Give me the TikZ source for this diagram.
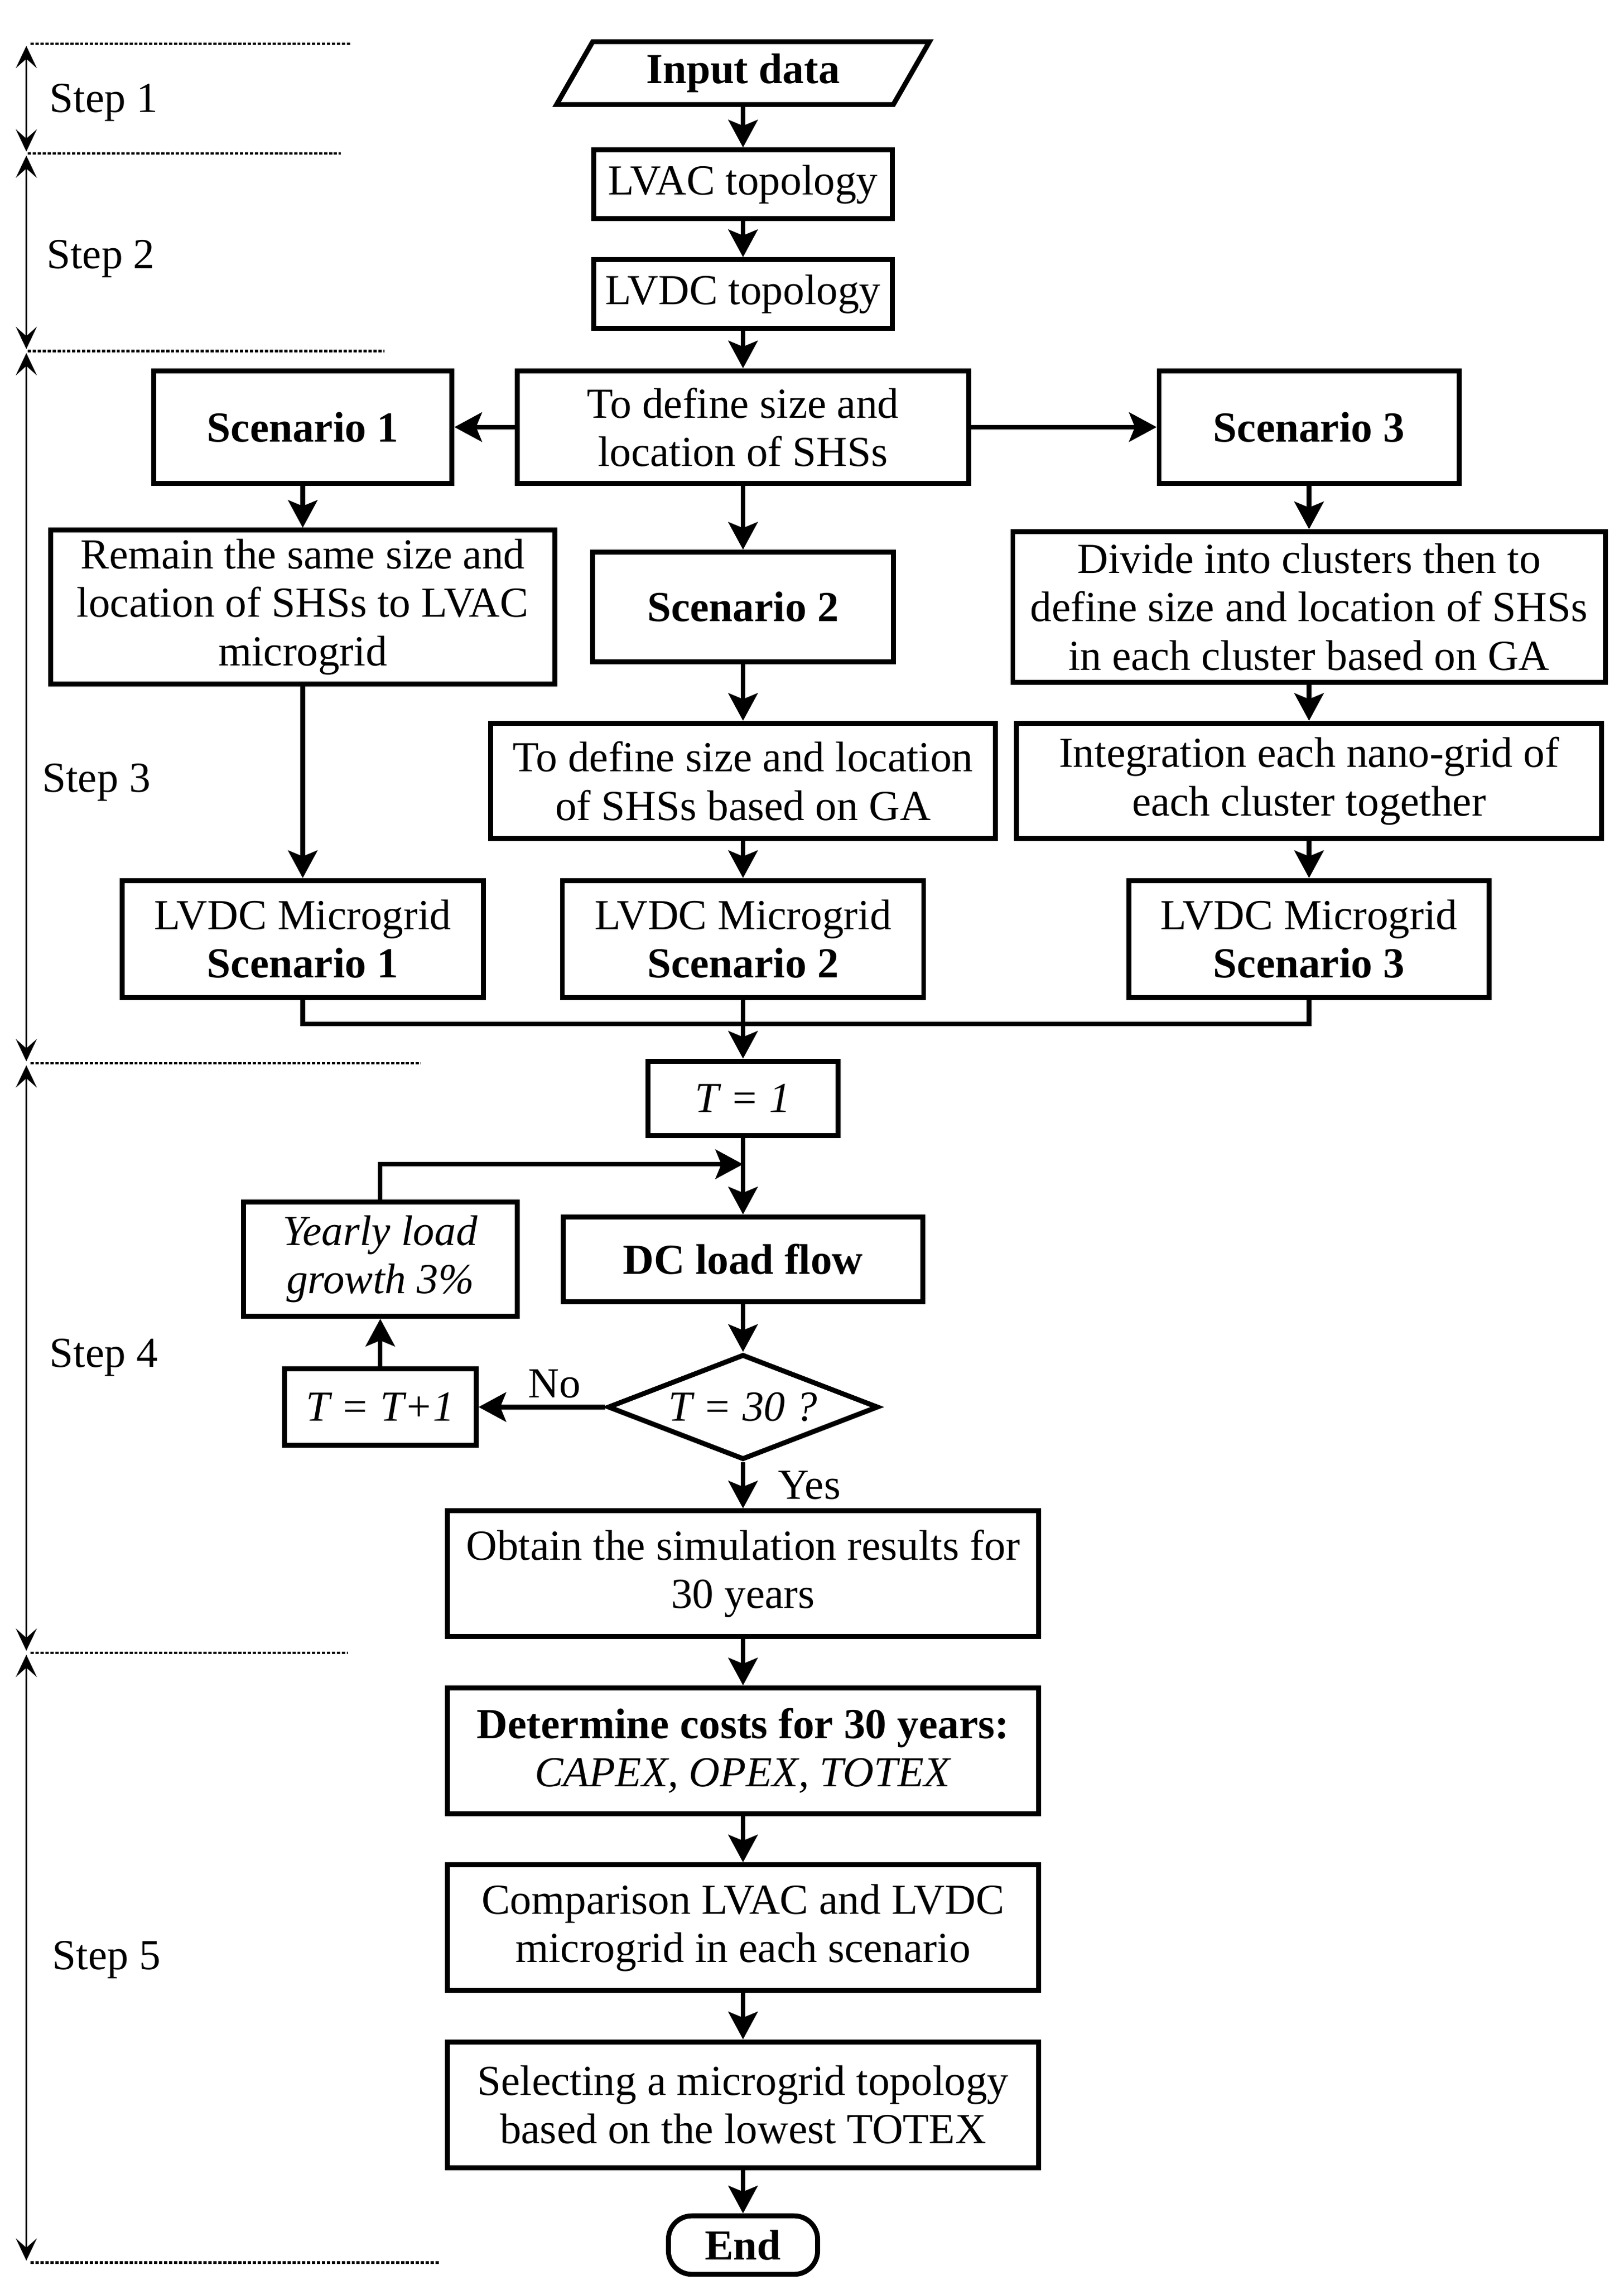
\documentclass[tikz,border=0pt]{standalone}
\usepackage{fontspec}
\setmainfont{Liberation Serif}
\usetikzlibrary{arrows.meta,shapes.geometric,positioning}

\begin{document}
\begin{tikzpicture}[x=0.025cm,y=-0.025cm,
  font=\fontsize{20.8}{23.5}\selectfont,
  >={Stealth[length=0.47cm,width=0.5cm,inset=0.1cm]},
  sz/.style 2 args={minimum width=#1*0.025cm,minimum height=#2*0.025cm},
  block/.style={draw,rectangle,line width=2.4pt,align=center,inner sep=1pt},
  io/.style={draw,trapezium,trapezium left angle=61,trapezium right angle=119,
    trapezium stretches=true,line width=2.4pt,inner sep=1pt},
  decision/.style={draw,diamond,aspect=2.6,line width=2.4pt,inner sep=0pt},
  term/.style={draw,rectangle,rounded corners=0.4cm,line width=2.4pt},
  line/.style={line width=2.2pt},
  steparrow/.style={<->,>={Stealth[length=0.38cm,width=0.36cm,inset=0.16cm]},line width=0.7pt},
  stepmark/.style={line width=1.2pt,dash pattern=on 1.6pt off 0.8pt}]
\useasboundingbox (0,0) rectangle (1110,1562.3);

% steps on the left
\coordinate (s0) at (18,30);
\coordinate (s1) at (18,105);
\coordinate (s2) at (18,240);
\coordinate (s3) at (18,727);
\coordinate (s4) at (18,1130);
\coordinate (s5) at (18,1547);
\draw[stepmark] (s0) ++(3,0) -- (240,30);
\draw[stepmark] (s1) ++(1,0) -- (233,105);
\draw[stepmark] (s2) ++(1,0) -- (263,240);
\draw[stepmark] (s3) ++(3,0) -- (288,727);
\draw[stepmark] (s4) ++(3,0) -- (238,1130);
\draw[stepmark] (s5) ++(3,0) -- (300,1547);
\draw[steparrow] ([yshift=-1pt]s0) -- ([yshift=1pt]s1);
\draw[steparrow] ([yshift=-1pt]s1) -- ([yshift=1pt]s2);
\draw[steparrow] ([yshift=-1pt]s2) -- ([yshift=1pt]s3);
\draw[steparrow] ([yshift=-1pt]s3) -- ([yshift=1pt]s4);
\draw[steparrow] ([yshift=-1pt]s4) -- ([yshift=1pt]s5);
\node[anchor=west] (st1) at (29,70) {Step 1};
\node[anchor=west] (st2) at (27,177) {Step 2};
\node[anchor=west] (st3) at (24,535) {Step 3};
\node[anchor=west] (st4) at (29,928) {Step 4};
\node[anchor=west] (st5) at (31,1340) {Step 5};

% flow chart
\node[io,sz={255}{43}] (inp) at (508,50) {\textbf{Input data}};
\node[block,sz={204}{47}] (lvac) at (508,126) {LVAC topology};
\node[block,sz={204}{47}] (lvdc) at (508,201) {LVDC topology};
\node[block,sz={309}{77}] (def) at (508,292) {To define size and\\location of SHSs};
\node[block,sz={204}{77}] (sc1) at (207,292) {\textbf{Scenario 1}};
\node[block,sz={205}{77}] (sc3) at (895,292) {\textbf{Scenario 3}};
\node[block,sz={345}{105}] (rem) at (207,415) {Remain the same size and\\location of SHSs to LVAC\\microgrid};
\node[block,sz={206}{75}] (sc2) at (508,415) {\textbf{Scenario 2}};
\node[block,sz={405}{103}] (div) at (895,415) {Divide into clusters then to\\define size and location of SHSs\\in each cluster based on GA};
\node[block,sz={345}{79}] (ga) at (508,534) {To define size and location\\of SHSs based on GA};
\node[block,sz={400}{79}] (integ) at (895,534) {Integration each nano-grid of\\each cluster together};
\node[block,sz={247}{80}] (mg1) at (207,642) {LVDC Microgrid\\\textbf{Scenario 1}};
\node[block,sz={247}{80}] (mg2) at (508,642) {LVDC Microgrid\\\textbf{Scenario 2}};
\node[block,sz={246}{80}] (mg3) at (895,642) {LVDC Microgrid\\\textbf{Scenario 3}};
\coordinate (bus) at (508,700);
\node[block,sz={130}{51}] (t1) at (508,751) {\textit{T = 1}};
\coordinate (jn) at (508,796);
\node[block,sz={246}{58}] (dclf) at (508,861) {\textbf{DC load flow}};
\node[block,sz={187}{78}] (grow) at (260,861) {\textit{Yearly load}\\\textit{growth 3\%}};
\node[decision,sz={185}{72}] (chk) at (508,962) {\textit{T = 30 ?}};
\node[block,sz={131}{52}] (tinc) at (260,962) {\textit{T = T+1}};
\node[block,sz={404}{86}] (obt) at (508,1076) {Obtain the simulation results for\\30 years};
\node[block,sz={404}{86}] (cost) at (508,1197) {\textbf{Determine costs for 30 years:}\\\textit{CAPEX, OPEX, TOTEX}};
\node[block,sz={404}{86}] (comp) at (508,1318) {Comparison LVAC and LVDC\\microgrid in each scenario};
\node[block,sz={404}{86}] (sel) at (508,1439) {Selecting a microgrid topology\\based on the lowest TOTEX};
\node[term,sz={102}{40}] (stop) at (508,1535) {\textbf{End}};

\path[->,line] (inp) edge (lvac)
  (lvac) edge (lvdc)
  (lvdc) edge (def)
  (def) edge (sc1)
        edge (sc2)
        edge (sc3)
  (sc1) edge (rem)
  (rem) edge (mg1)
  (sc2) edge (ga)
  (ga) edge (mg2)
  (sc3) edge (div)
  (div) edge (integ)
  (integ) edge (mg3)
  (mg2) edge (t1)
  (t1) edge (dclf)
  (dclf) edge (chk)
  (chk) edge node[above,pos=0.4] {No} (tinc)
        edge node[right,xshift=0.45cm] {Yes} (obt)
  (tinc) edge (grow)
  (obt) edge (cost)
  (cost) edge (comp)
  (comp) edge (sel)
  (sel) edge (stop);
\draw[line] (mg1) |- (bus) -| (mg3);
\draw[->,line] (grow) |- (jn);
\end{tikzpicture}
\end{document}
